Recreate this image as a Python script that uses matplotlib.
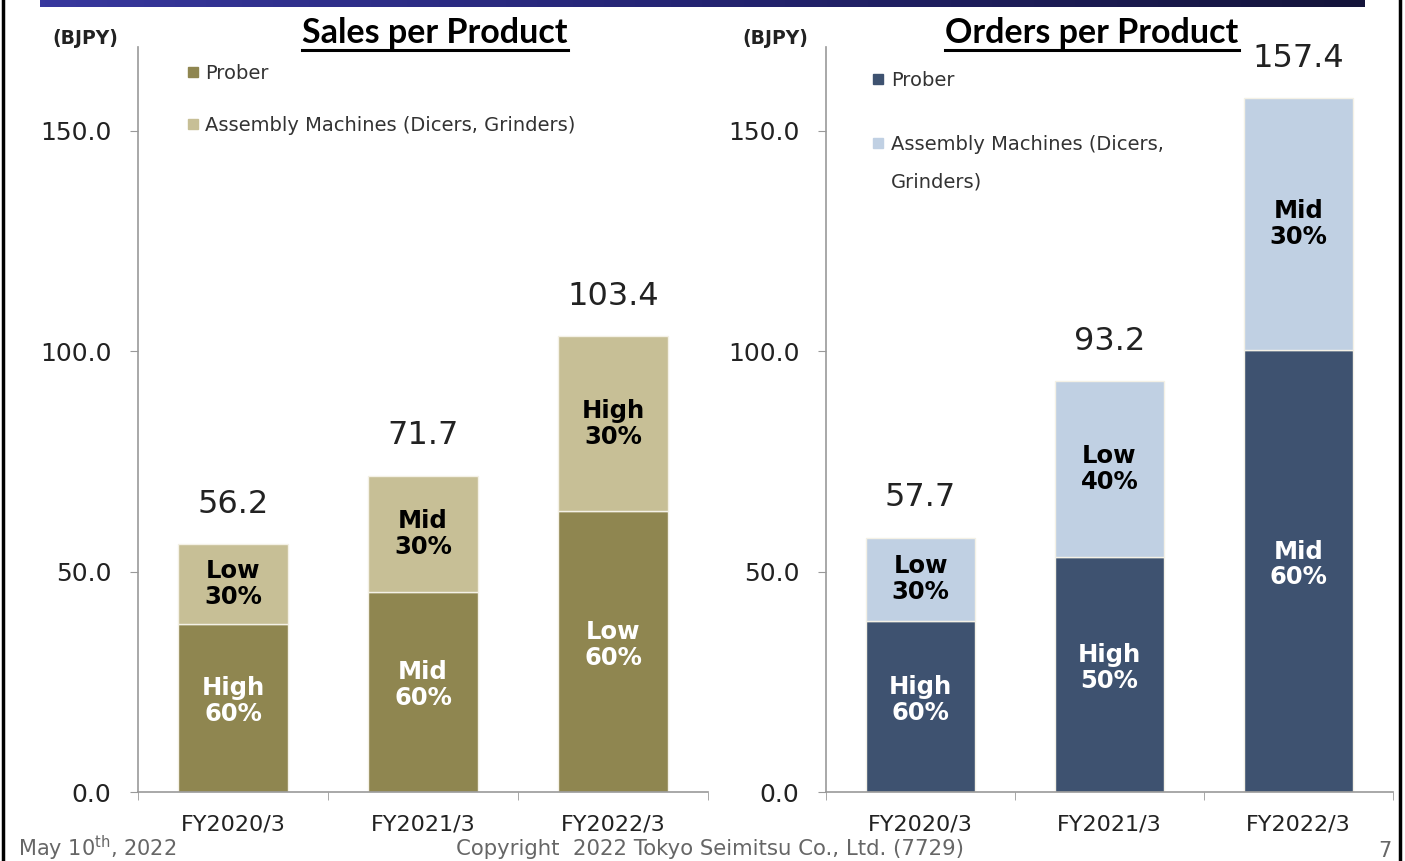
import matplotlib
matplotlib.use("Agg")
import matplotlib.pyplot as plt
import numpy as np
from matplotlib.lines import Line2D
from matplotlib.colors import LinearSegmentedColormap

years = ["FY2020/3", "FY2021/3", "FY2022/3"]

sales_total = [56.2, 71.7, 103.4]
sales_prober = [38.1, 45.4, 63.7]
sales_prober_lbl = ["High\n60%", "Mid\n60%", "Low\n60%"]
sales_asm_lbl = ["Low\n30%", "Mid\n30%", "High\n30%"]

orders_total = [57.7, 93.2, 157.4]
orders_prober = [38.8, 53.3, 100.2]
orders_prober_lbl = ["High\n60%", "High\n50%", "Mid\n60%"]
orders_asm_lbl = ["Low\n30%", "Low\n40%", "Mid\n30%"]

yticks = [0, 50, 100, 150]

W, H = 1405, 861
fig = plt.figure(figsize=(W / 100, H / 100), dpi=100)
plt.rcParams["font.family"] = ["DejaVu Sans"]


def px(x0, y0, x1, y1):
    return [x0 / W, 1 - y1 / H, (x1 - x0) / W, (y1 - y0) / H]


def panel(ax, total, prober, p_lbl, a_lbl, c_prober, c_asm, asm_name):
    x = np.arange(len(years))
    asm = [t - p for t, p in zip(total, prober)]
    ax.bar(x, prober, width=0.58, color=c_prober, edgecolor="#f4f1e6", linewidth=1)
    ax.bar(x, asm, bottom=prober, width=0.58, color=c_asm, edgecolor="#f4f1e6", linewidth=1)
    for i in range(len(x)):
        ax.text(x[i], prober[i] / 2 + 1.5, p_lbl[i], ha="center", va="center",
                color="white", fontsize=17.5, fontweight="bold", linespacing=1.1)
        ax.text(x[i], prober[i] + asm[i] / 2, a_lbl[i], ha="center", va="center",
                color="black", fontsize=17.5, fontweight="bold", linespacing=1.1)
        ax.annotate(f"{total[i]:.1f}", (x[i], total[i]), xytext=(0, 40),
                    textcoords="offset pixels", ha="center", va="center",
                    fontsize=23, color="#222222")
    ax.set_xlim(-0.5, 2.5)
    ax.set_ylim(0, 169)
    ax.set_yticks(yticks)
    ax.set_yticklabels([f"{v:.1f}" for v in yticks], fontsize=18, color="#222222")
    ax.set_xticks(x)
    ax.set_xticklabels(years, fontsize=16, color="#222222")
    ax.set_xticks(np.arange(-0.5, 3, 1), minor=True)
    ax.tick_params(axis="x", which="major", length=0, pad=16)
    ax.tick_params(axis="x", which="minor", length=6, color="#999999", direction="out")
    ax.tick_params(axis="y", length=6, color="#999999", pad=13)
    for s in ("top", "right"):
        ax.spines[s].set_visible(False)
    for s in ("left", "bottom"):
        ax.spines[s].set_color("#999999")
        ax.spines[s].set_linewidth(1.2)
    handles = [
        Line2D([], [], marker="s", linestyle="none", markersize=7, color=c_prober),
        Line2D([], [], marker="s", linestyle="none", markersize=7, color=c_asm),
    ]
    return handles, ["Prober", asm_name]


ax1 = fig.add_axes(px(138, 47, 708, 792))
h, l = panel(ax1, sales_total, sales_prober, sales_prober_lbl, sales_asm_lbl,
             "#8F8650", "#C7BF96", "Assembly Machines (Dicers, Grinders)")
leg1 = ax1.legend(h, l, loc="upper left", bbox_to_anchor=(0.086, 0.977), frameon=False,
                  fontsize=14, handlelength=0.6, handletextpad=0.35, labelspacing=1.7,
                  borderaxespad=0, borderpad=0)
for t in leg1.get_texts():
    t.set_color("#333333")

ax2 = fig.add_axes(px(826, 47, 1393, 792))
h, l = panel(ax2, orders_total, orders_prober, orders_prober_lbl, orders_asm_lbl,
             "#3E5270", "#C0D0E3", "Assembly Machines (Dicers,")
leg2 = ax2.legend(h, l, loc="upper left", bbox_to_anchor=(0.082, 0.968), frameon=False,
                  fontsize=14, handlelength=0.6, handletextpad=0.35, labelspacing=2.3,
                  borderaxespad=0, borderpad=0)
for t in leg2.get_texts():
    t.set_color("#333333")

# titles with underline
titles = []
for xc, txt in [(435, "Sales per Product"), (1092, "Orders per Product")]:
    titles.append(fig.text(xc / W, 1 - 33 / H, txt, ha="center", va="center",
                           fontsize=24.5, fontweight="bold", family="Lato"))
for xc in (85, 775):
    fig.text(xc / W, 1 - 38 / H, "(BJPY)", ha="center", va="center",
             fontsize=13.5, fontweight="bold", color="#222222")

# top banner
band = fig.add_axes(px(40, 0, 1365, 7))
grad = np.linspace(0, 1, 256)[None, :]
cmap = LinearSegmentedColormap.from_list("band", ["#38389e", "#242472", "#14143a"])
band.imshow(grad, aspect="auto", cmap=cmap)
band.axis("off")

# slide frame lines
fig.add_artist(Line2D([2.5 / W, 2.5 / W], [0, 1], color="black", lw=2.5))
fig.add_artist(Line2D([1400 / W, 1400 / W], [0, 1], color="black", lw=2.5))

# footer
fig.text(18 / W, 1 - 856 / H, r"May 10$^{\mathrm{th}}$, 2022", ha="left", va="baseline",
         fontsize=15, color="#666666")
fig.text(710 / W, 1 - 855 / H, "Copyright  2022 Tokyo Seimitsu Co., Ltd. (7729)",
         ha="center", va="baseline", fontsize=15.3, color="#666666")
fig.text(1385 / W, 1 - 857 / H, "7", ha="center", va="baseline", fontsize=15, color="#666666")

fig.canvas.draw()
r = fig.canvas.get_renderer()
for t in titles:
    bb = t.get_window_extent(r)
    y = bb.y0 - 1
    fig.add_artist(Line2D([bb.x0 / W, bb.x1 / W], [y / H, y / H], color="black", lw=2.2))

# second line of the wrapped legend label
tb = leg2.get_texts()[1].get_window_extent(r)
fig.text(tb.x0 / W, (tb.y0 - 38) / H, "Grinders)", ha="left", va="bottom",
         fontsize=14, color="#333333")

fig.savefig("out.png", dpi=100)
